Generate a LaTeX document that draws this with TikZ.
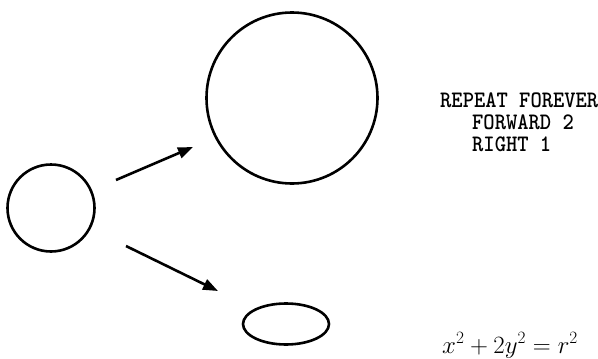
\documentclass[tikz,border=0pt]{standalone}
\usetikzlibrary{arrows.meta,shapes.geometric}
\begin{document}
\begin{tikzpicture}[x=1pt,y=-1pt,
  shapeline/.style={draw=black,line width=2.6pt},
  arr/.style={line width=2.6pt,-{Triangle[length=15pt,width=11pt]}},
  code/.style={anchor=base west,inner sep=0pt,font=\fontsize{21.5}{22}\selectfont\ttfamily\bfseries},
  eq/.style={anchor=base west,inner sep=0pt,font=\fontsize{25.5}{27}\selectfont}]
\useasboundingbox (0,0) rectangle (598,359);
\node[shapeline,circle,minimum size=87pt,inner sep=0pt] (small) at (51,208) {};
\node[shapeline,circle,minimum size=171pt,inner sep=0pt] (big) at (292,98) {};
\node[shapeline,ellipse,minimum width=86pt,minimum height=41pt,inner sep=0pt] (oval) at (286,324) {};
\coordinate (a1s) at (116,180);
\coordinate (a1e) at (193,147);
\coordinate (a2s) at (126,246);
\coordinate (a2e) at (218,291);
\draw[arr] (a1s) -- (a1e);
\draw[arr] (a2s) -- (a2e);
\node[code] (l1) at (440,107) {\scalebox{1}[1.1]{REPEAT FOREVER}};
\node[code] (l2) at (472,129) {\scalebox{1}[1.1]{FORWARD 2}};
\node[code] (l3) at (472,151) {\scalebox{1}[1.1]{RIGHT 1}};
\node[eq] (eqn) at (442,353) {$x^2+2y^2=r^2$};
\end{tikzpicture}
\end{document}
